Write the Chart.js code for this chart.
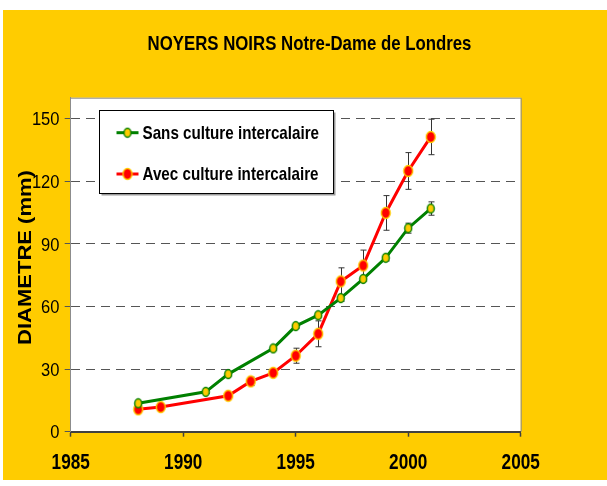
<!DOCTYPE html>
<html>
<head>
<meta charset="utf-8">
<title>NOYERS NOIRS Notre-Dame de Londres</title>
<script src="https://cdn.jsdelivr.net/npm/chart.js@4.4.0/dist/chart.umd.min.js"></script>
<style>
    html, body { margin: 0; padding: 0; background: #ffffff; }
    #wrap { width: 607px; height: 486px; position: relative; }
</style>
</head>
<body>
<div id="wrap"><canvas id="diamChart" width="607" height="486"></canvas></div>
<script>
// ===== DATA =====
const titleText = 'NOYERS NOIRS Notre-Dame de Londres';
const yTitleText = 'DIAMETRE (mm)';
const seriesNames = ['Sans culture intercalaire', 'Avec culture intercalaire'];

const yearsSans = [1988, 1991, 1992, 1994, 1995, 1996, 1997, 1998, 1999, 2000, 2001];
const diamSans  = [13.6, 19.1, 27.6, 39.9, 50.6, 55.8, 64.0, 73.2, 83.3, 97.5, 106.9];
const errSans   = [1.0, 0.8, 1.0, 1.0, 1.0, 1.2, 1.5, 1.2, 1.5, 2.4, 3.2];

const yearsAvec = [1988, 1989, 1992, 1993, 1994, 1995, 1996, 1997, 1998, 1999, 2000, 2001];
const diamAvec  = [10.7, 11.8, 17.2, 24.1, 28.2, 36.4, 46.9, 72.0, 79.6, 104.8, 124.9, 141.2];
const errAvec   = [1.0, 1.0, 1.0, 2.0, 1.5, 3.6, 6.2, 6.5, 7.4, 8.3, 8.8, 8.5];

const xTicks = [1985, 1990, 1995, 2000, 2005];
const yTicks = [0, 30, 60, 90, 120, 150];

// ===== STYLE =====
const YELLOW = '#FFCC00';
const GREEN = '#008000';
const RED = '#FF0000';
const FONT = '"Liberation Sans", Arial, sans-serif';
const SQUEEZE = 0.8; // the original picture is squeezed horizontally

// Elliptic marker
function makeMarker(w, h, fill, stroke) {
    const c = document.createElement('canvas');
    c.width = w + 2;
    c.height = h + 2;
    const g = c.getContext('2d');
    g.beginPath();
    g.ellipse(c.width / 2, c.height / 2, w / 2 - 0.5, h / 2 - 0.5, 0, 0, Math.PI * 2);
    g.fillStyle = fill;
    g.fill();
    g.lineWidth = 1.4;
    g.strokeStyle = stroke;
    g.stroke();
    return c;
}

const markSans = makeMarker(8, 10, YELLOW, GREEN);
const markAvec = makeMarker(10, 12, RED, YELLOW);

function toPoints(xs, ys) {
    return xs.map((x, i) => ({ x: x, y: ys[i] }));
}

// Text drawn with a horizontal squeeze
function squeezedText(ctx, text, x, y, font, align, sx) {
    ctx.save();
    ctx.translate(x, y);
    ctx.scale(sx, 1);
    ctx.font = font;
    ctx.textAlign = align;
    ctx.textBaseline = 'middle';
    ctx.fillStyle = '#000000';
    ctx.fillText(text, 0, 0);
    ctx.restore();
}

// Background, frame, error bars, labels and legend
const decorPlugin = {
    id: 'decor',
    beforeDraw(chart) {
        const ctx = chart.ctx;
        const a = chart.chartArea;
        ctx.save();
        ctx.fillStyle = '#ffffff';
        ctx.fillRect(0, 0, chart.width, chart.height);
        ctx.fillStyle = YELLOW;
        ctx.fillRect(3, 10, chart.width - 3, 470);
        ctx.fillStyle = '#ffffff';
        ctx.fillRect(a.left, a.top, a.right - a.left, a.bottom - a.top);
        ctx.restore();
    },
    beforeDatasetsDraw(chart) {
        const ctx = chart.ctx;
        const a = chart.chartArea;
        const xs = chart.scales.x;
        const ys = chart.scales.y;
        ctx.save();
        // gray frame on top and right
        ctx.strokeStyle = '#8c8c8c';
        ctx.lineWidth = 1;
        ctx.beginPath();
        ctx.moveTo(a.left, a.top + 0.5);
        ctx.lineTo(a.right + 0.5, a.top + 0.5);
        ctx.lineTo(a.right + 0.5, a.bottom);
        ctx.stroke();

        // error bars
        const sets = [[yearsSans, diamSans, errSans], [yearsAvec, diamAvec, errAvec]];
        ctx.strokeStyle = '#333333';
        ctx.lineWidth = 1;
        sets.forEach(([xv, yv, ev]) => {
            xv.forEach((yr, i) => {
                const px = Math.round(xs.getPixelForValue(yr)) + 0.5;
                const top = ys.getPixelForValue(yv[i] + ev[i]);
                const bot = ys.getPixelForValue(yv[i] - ev[i]);
                ctx.beginPath();
                ctx.moveTo(px, top);
                ctx.lineTo(px, bot);
                ctx.moveTo(px - 3, top);
                ctx.lineTo(px + 3, top);
                ctx.moveTo(px - 3, bot);
                ctx.lineTo(px + 3, bot);
                ctx.stroke();
            });
        });
        ctx.restore();
    },
    afterDraw(chart) {
        const ctx = chart.ctx;
        const xs = chart.scales.x;
        const ys = chart.scales.y;

        // tick labels, placed by the scales
        xs.ticks.forEach(t => {
            squeezedText(ctx, String(t.value), xs.getPixelForValue(t.value), 463,
                'bold 21.5px ' + FONT, 'center', SQUEEZE);
        });
        ys.ticks.forEach(t => {
            squeezedText(ctx, String(t.value), 59.5, ys.getPixelForValue(t.value) + 1.5,
                '19px ' + FONT, 'right', 0.87);
        });

        // main title
        squeezedText(ctx, titleText, 309.5, 44, 'bold 21px ' + FONT, 'center', SQUEEZE);

        // y axis title, rotated and squeezed
        ctx.save();
        ctx.translate(25.5, 257.5);
        ctx.scale(0.82, 1);
        ctx.rotate(-Math.PI / 2);
        ctx.font = 'bold 22px ' + FONT;
        ctx.textAlign = 'center';
        ctx.textBaseline = 'middle';
        ctx.fillStyle = '#000000';
        ctx.fillText(yTitleText, 0, 1);
        ctx.restore();

        // legend box
        ctx.save();
        const bx = 99.5, by = 110.5, bw = 234, bh = 83;
        ctx.fillStyle = '#9a9a9a';
        ctx.fillRect(bx + 2, by + 2, bw, bh);
        ctx.fillStyle = '#ffffff';
        ctx.fillRect(bx, by, bw, bh);
        ctx.strokeStyle = '#000000';
        ctx.lineWidth = 1;
        ctx.strokeRect(bx, by, bw, bh);

        const rows = [
            { y: 132.7, color: GREEN, mark: markSans },
            { y: 174, color: RED, mark: markAvec }
        ];
        rows.forEach((r, i) => {
            ctx.strokeStyle = r.color;
            ctx.lineWidth = 3;
            ctx.beginPath();
            ctx.moveTo(116.5, r.y);
            ctx.lineTo(138.5, r.y);
            ctx.stroke();
            ctx.drawImage(r.mark, 127.5 - r.mark.width / 2, r.y - r.mark.height / 2);
            squeezedText(ctx, seriesNames[i], 142.5, r.y + 1, 'bold 19px ' + FONT, 'left', SQUEEZE);
        });
        ctx.restore();
    }
};

function initializeDiameterChart() {
    const ctx = document.getElementById('diamChart');

    new Chart(ctx, {
        type: 'line',
        data: {
            datasets: [{
                label: seriesNames[0],
                data: toPoints(yearsSans, diamSans),
                borderColor: GREEN,
                borderWidth: 3,
                pointStyle: markSans,
                tension: 0
            }, {
                label: seriesNames[1],
                data: toPoints(yearsAvec, diamAvec),
                borderColor: RED,
                borderWidth: 3,
                pointStyle: markAvec,
                tension: 0
            }]
        },
        options: {
            responsive: false,
            animation: false,
            layout: {
                padding: { top: 97.7, right: 86.3, left: 0, bottom: 0 }
            },
            plugins: {
                legend: { display: false },
                title: { display: false },
                tooltip: { enabled: false }
            },
            scales: {
                x: {
                    type: 'linear',
                    min: xTicks[0],
                    max: xTicks[xTicks.length - 1],
                    afterBuildTicks: (s) => { s.ticks = xTicks.map(v => ({ value: v })); },
                    afterFit: (s) => { s.height = 54.3; },
                    grid: {
                        drawOnChartArea: false,
                        tickLength: 5,
                        tickColor: '#404040',
                        tickWidth: 1.5
                    },
                    border: { color: '#404040', width: 2 },
                    ticks: { display: false }
                },
                y: {
                    min: 0,
                    max: 160,
                    afterBuildTicks: (s) => { s.ticks = yTicks.map(v => ({ value: v })); },
                    afterFit: (s) => { s.width = 70.7; },
                    grid: {
                        color: (c) => (c.tick && c.tick.value === 0) ? 'rgba(0,0,0,0)' : '#555555',
                        tickColor: '#555555',
                        tickLength: 6,
                        tickBorderDash: []
                    },
                    border: { color: '#8c8c8c', width: 1, dash: [9, 6] },
                    ticks: { display: false }
                }
            }
        },
        plugins: [decorPlugin]
    });
}

initializeDiameterChart();
</script>
</body>
</html>
